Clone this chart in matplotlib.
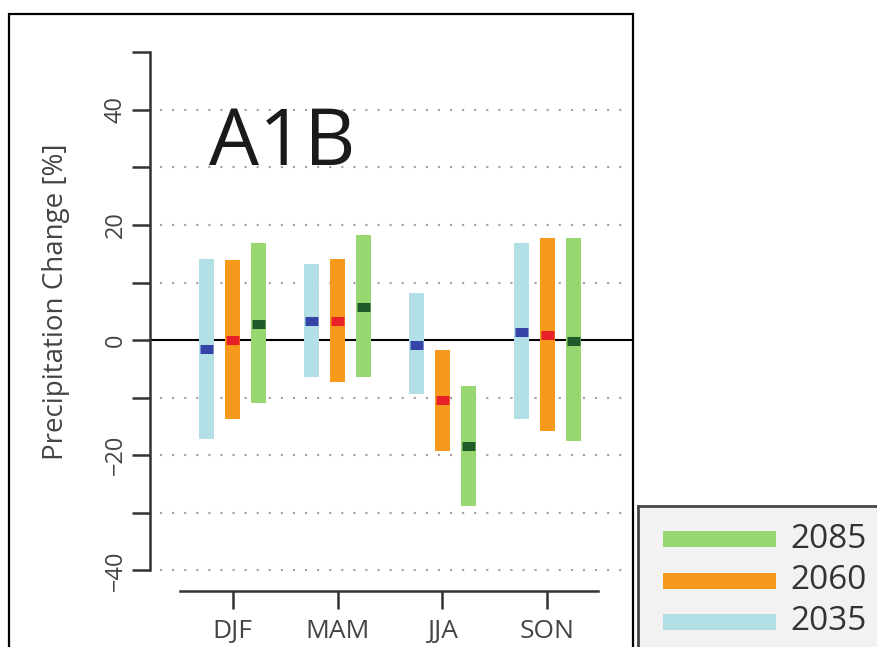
import matplotlib
matplotlib.use('Agg')
import matplotlib.pyplot as plt
from matplotlib.patches import Rectangle
import numpy as np

plt.rcParams['font.family'] = ['Open Sans', 'DejaVu Sans']

# Data -------------------------------------------------------------------
seasons = ['DJF', 'MAM', 'JJA', 'SON']
years = ['2035', '2060', '2085']

low_2035 = [-17.2, -6.4, -9.3, -13.7]
high_2035 = [14.0, 13.2, 8.1, 16.8]
med_2035 = [-1.6, 3.3, -0.8, 1.4]

low_2060 = [-13.8, -7.2, -19.2, -15.8]
high_2060 = [13.9, 14.0, -1.7, 17.7]
med_2060 = [0.0, 3.3, -10.4, 0.9]

low_2085 = [-10.9, -6.4, -28.8, -17.6]
high_2085 = [16.8, 18.2, -7.9, 17.8]
med_2085 = [2.8, 5.7, -18.4, -0.1]

bar_colors = ['#b3e0e7', '#f7991a', '#98d672']
med_colors = ['#3544a6', '#e8202a', '#1f5a2b']

lows = [low_2035, low_2060, low_2085]
highs = [high_2035, high_2060, high_2085]
meds = [med_2035, med_2060, med_2085]

W, H = 878, 647
fig = plt.figure(figsize=(W / 100, H / 100), dpi=100)

# main axes in pixel terms: left 150, right 632, top 12, bottom 591
ax = fig.add_axes([150 / W, (H - 591) / H, 482 / W, 579 / H])
ax.set_xlim(0.214, 4.805)
ax.set_ylim(-43.6, 57.0)
ax.patch.set_alpha(0)

x = np.arange(1, len(seasons) + 1)
offset = 0.25
bw = 0.143

# grid (dotted) and zero line
for yv in [-40, -30, -20, -10, 10, 20, 30, 40]:
    ax.hlines(yv, 0.31, 4.74, colors='#a0a0a0', linestyles=(0, (1, 4.8)),
              linewidth=1.5, zorder=1)
ax.axhline(0, color='black', linewidth=1.5, zorder=2)

for i in range(3):
    xi = x + (i - 1) * offset
    ax.bar(xi, np.array(highs[i]) - np.array(lows[i]), bottom=lows[i], width=bw,
           color=bar_colors[i], zorder=3)
    ax.hlines(meds[i], xi - bw * 0.42, xi + bw * 0.42, colors=med_colors[i],
              linewidth=6.5, zorder=4)

# R-style detached spines
for s in ['top', 'right']:
    ax.spines[s].set_visible(False)
ax.spines['left'].set_bounds(-40, 50)
ax.spines['bottom'].set_bounds(0.5, 4.48)
for s in ['left', 'bottom']:
    ax.spines[s].set_color('#333333')
    ax.spines[s].set_linewidth(1.8)

ax.set_yticks([-40, -30, -20, -10, 0, 10, 20, 30, 40, 50])
ax.set_yticklabels(['\u221240', '', '\u221220', '', '0', '', '20', '', '40', ''],
                   rotation=90, va='center')
ax.set_xticks(x)
ax.set_xticklabels(seasons)
ax.tick_params(axis='y', length=13, width=1.8, color='#333333', labelsize=17,
               labelcolor='#444444', pad=3)
ax.tick_params(axis='x', length=13, width=1.8, color='#333333', labelsize=19,
               labelcolor='#444444', pad=7)
ax.set_ylabel('Precipitation Change [%]', fontsize=20, color='#444444')
ax.yaxis.label.set_verticalalignment('center')
ax.yaxis.set_label_coords(-0.195, 0.50)

ax.text(0.78, 30.4, 'A1B', fontsize=57, color='#1a1a1a', ha='left', va='baseline')

# outer frame
fig.patches.append(Rectangle((9 / W, -0.05), (633 - 9) / W, 1.05 - 14 / H,
                             transform=fig.transFigure, fill=False,
                             edgecolor='black', linewidth=1.6))

# legend box
lax = fig.add_axes([638 / W, -6 / H, 246 / W, (H - 506 + 6) / H])
lax.set_xlim(638, 884)
lax.set_ylim(H + 6, 506)
lax.set_facecolor('#f2f2f2')
lax.set_xticks([])
lax.set_yticks([])
for s in lax.spines.values():
    s.set_color('#444444')
    s.set_linewidth(2)
for k, i in enumerate([2, 1, 0]):
    yy = 539 + k * 41.5
    lax.plot([663, 776], [yy, yy], color=bar_colors[i], linewidth=11.5,
             solid_capstyle='butt')
    lax.text(790, yy, years[i], fontsize=24, color='#333333', va='center', ha='left')

fig.savefig('out.png', dpi=100)
